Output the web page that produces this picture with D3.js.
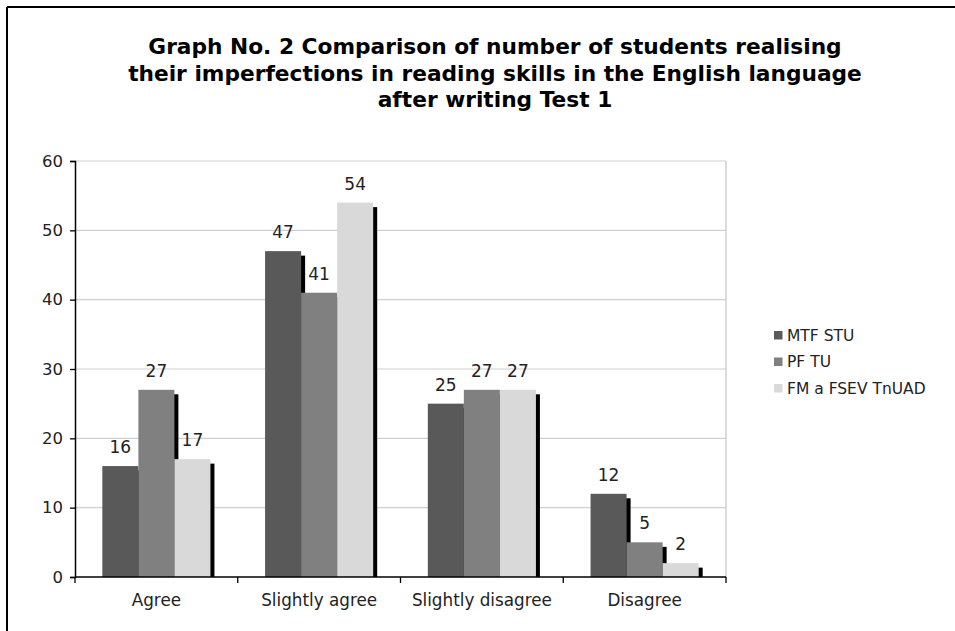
<!DOCTYPE html>
<html><head><meta charset="utf-8">
<script src="https://cdn.jsdelivr.net/npm/d3@7"></script>
<style>
html,body{margin:0;padding:0;background:#fff;}
svg{display:block;}
text{font-family:"DejaVu Sans",Verdana,sans-serif;fill:#222;}
</style></head>
<body>
<script>
const titleLines = [
  "Graph No. 2 Comparison of number of students realising",
  "their imperfections in reading skills in the English language",
  "after writing Test 1"
];
const categories = ["Agree", "Slightly agree", "Slightly disagree", "Disagree"];
const seriesNames = ["MTF STU", "PF TU", "FM a FSEV TnUAD"];
const seriesColors = ["#595959", "#808080", "#d9d9d9"];
const mtfStu = [16, 47, 25, 12];
const pfTu = [27, 41, 27, 5];
const fmFsev = [17, 54, 27, 2];
const yTicks = [0, 10, 20, 30, 40, 50, 60];

const seriesValues = [mtfStu, pfTu, fmFsev];
const W = 955, H = 631;
const svg = d3.select("body").append("svg").attr("width", W).attr("height", H);

// outer frame (top and left visible)
svg.append("line").attr("x1", 7).attr("x2", W).attr("y1", 7).attr("y2", 7).attr("stroke", "#000").attr("stroke-width", 2);
svg.append("line").attr("x1", 7).attr("x2", 7).attr("y1", 7).attr("y2", H).attr("stroke", "#000").attr("stroke-width", 2);

// title
const tg = svg.append("g");
const tl = tg.selectAll("text").data(titleLines).join("text")
  .attr("x", 495).attr("y", (d, i) => 54 + i * 26.5)
  .attr("text-anchor", "middle").attr("font-weight", "bold")
  .attr("font-size", 20).style("fill", "#000").text(d => d);
const w2 = tl.nodes()[1].getComputedTextLength();
const fs = 20 * 734 / w2;
tl.attr("font-size", fs);

const pLeft = 75, pRight = 726, pTop = 161, pBottom = 577;
const x0 = d3.scaleBand().domain(categories).range([pLeft, pRight]).paddingInner(0.3357).paddingOuter(0.1679);
const x0b = d3.scaleBand().domain(categories).range([pLeft, pRight]);
const x1 = d3.scaleBand().domain(seriesNames).range([0, x0.bandwidth()]);
const y = d3.scaleLinear().domain([0, 60]).range([pBottom, pTop]);

// grid
svg.append("g").selectAll("line").data(yTicks.filter(d => d > 0)).join("line")
  .attr("x1", pLeft).attr("x2", pRight).attr("y1", d => y(d)).attr("y2", d => y(d))
  .attr("stroke", "#cfcfcf").attr("stroke-width", 1.2);
svg.append("line").attr("x1", pRight).attr("x2", pRight).attr("y1", pTop).attr("y2", pBottom)
  .attr("stroke", "#cfcfcf").attr("stroke-width", 1.5);

// clip for shadows (applied on an untransformed wrapper)
svg.append("clipPath").attr("id", "pc").append("rect")
  .attr("x", pLeft).attr("y", pTop).attr("width", pRight - pLeft + 10).attr("height", pBottom - pTop);

const shadowLayer = svg.append("g").attr("clip-path", "url(#pc)");
const shadowGroups = shadowLayer.selectAll("g").data(categories).join("g")
  .attr("transform", d => `translate(${x0(d)},0)`);
const groups = svg.append("g").selectAll("g").data(categories).join("g")
  .attr("transform", d => `translate(${x0(d)},0)`);

// shadows
seriesNames.forEach((s, si) => {
  shadowGroups.append("rect")
    .attr("x", x1(s) + 4)
    .attr("y", (d, ci) => y(seriesValues[si][ci]) + 4.5)
    .attr("width", x1.bandwidth())
    .attr("height", (d, ci) => pBottom - y(seriesValues[si][ci]))
    .attr("fill", "#000");
});
// bars
seriesNames.forEach((s, si) => {
  groups.append("rect")
    .attr("x", x1(s))
    .attr("y", (d, ci) => y(seriesValues[si][ci]))
    .attr("width", x1.bandwidth())
    .attr("height", (d, ci) => pBottom - y(seriesValues[si][ci]))
    .attr("fill", seriesColors[si]);
});
// labels
seriesNames.forEach((s, si) => {
  groups.append("text")
    .attr("x", x1(s) + x1.bandwidth() / 2)
    .attr("y", (d, ci) => y(seriesValues[si][ci]) - 13)
    .attr("text-anchor", "middle").attr("font-size", 17)
    .text((d, ci) => seriesValues[si][ci]);
});

// y axis
const yAxis = d3.axisLeft(y).tickValues(yTicks).tickSize(5).tickPadding(7);
const ya = svg.append("g").attr("transform", `translate(${pLeft},0)`).call(yAxis);
ya.select(".domain").attr("stroke", "#000").attr("stroke-width", 1.5);
ya.selectAll(".tick line").attr("stroke", "#000").attr("stroke-width", 1.3);
ya.selectAll(".tick text").attr("font-size", 16.5).attr("font-family", "DejaVu Sans").style("fill", "#222");

// x axis
const xa = svg.append("g").attr("transform", `translate(0,${pBottom})`);
xa.append("line").attr("x1", pLeft).attr("x2", pRight).attr("stroke", "#000").attr("stroke-width", 1.5);
const bounds = categories.map(c => x0b(c)).concat([pRight]);
xa.selectAll("line.tk").data(bounds).join("line").attr("class", "tk")
  .attr("x1", d => d).attr("x2", d => d).attr("y1", 0).attr("y2", 6)
  .attr("stroke", "#000").attr("stroke-width", 1.3);
xa.selectAll("text").data(categories).join("text")
  .attr("x", d => x0b(d) + x0b.bandwidth() / 2).attr("y", 28.5)
  .attr("text-anchor", "middle").attr("font-size", 16.8).text(d => d);

// legend
const lg = svg.append("g").selectAll("g").data(seriesNames).join("g")
  .attr("transform", (d, i) => `translate(774,${335 + i * 26.5})`);
lg.append("rect").attr("x", 0).attr("y", -4).attr("width", 8.5).attr("height", 8.5)
  .attr("fill", (d, i) => seriesColors[i]);
lg.append("text").attr("x", 13).attr("y", 5.5).attr("font-size", 15.5).text(d => d);
</script>
</body></html>
